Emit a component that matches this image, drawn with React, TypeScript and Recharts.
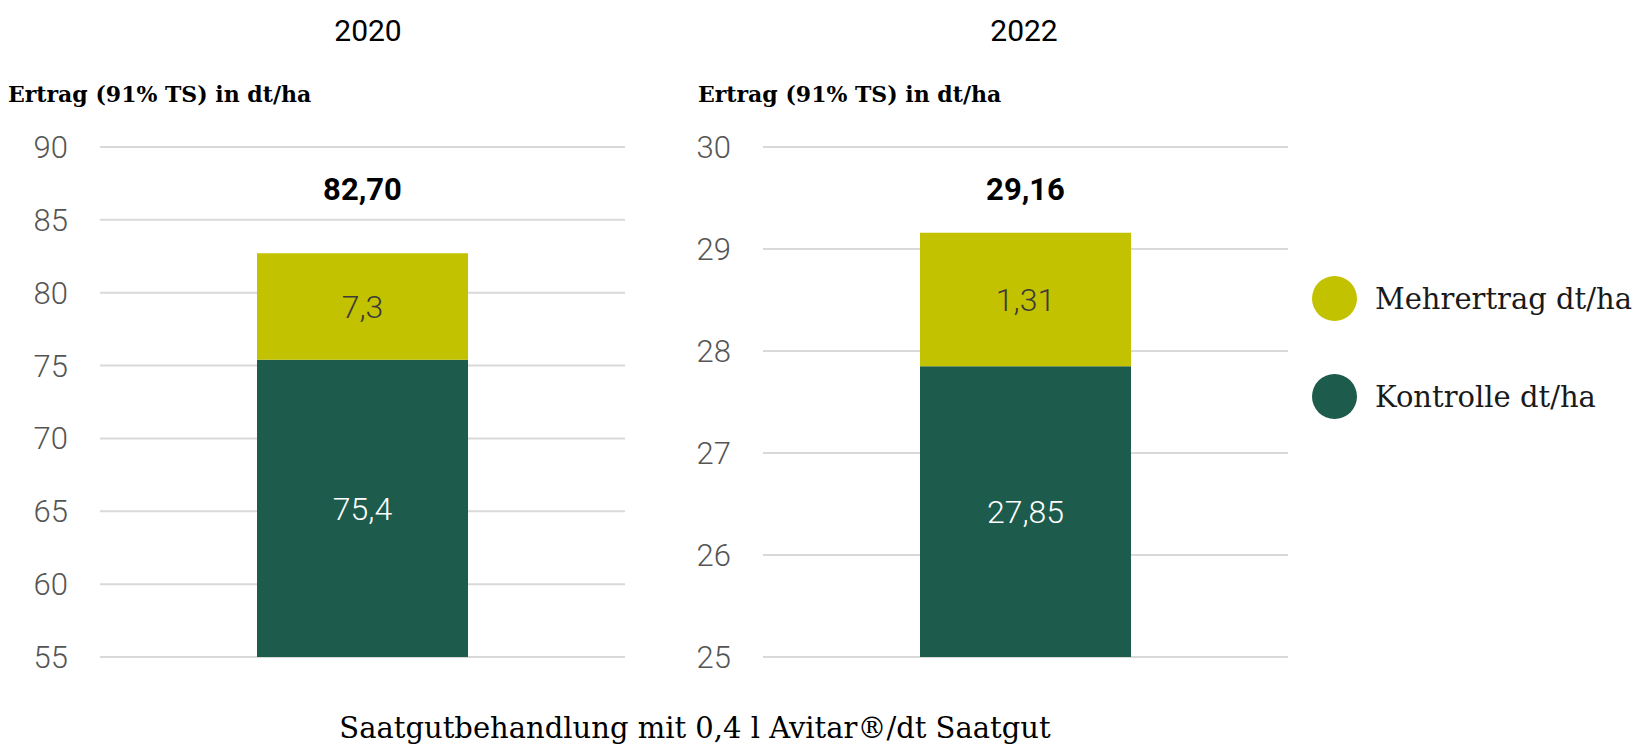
import { BarChart, Bar, XAxis, YAxis, CartesianGrid, LabelList } from "recharts"

const YEARS = ["2020", "2022"]
const KONTROLLE = [75.4, 27.85]
const MEHRERTRAG = [7.3, 1.31]
const TOTALS = [82.7, 29.16]
const Y_DOMAINS: [number, number][] = [[55, 90], [25, 30]]
const Y_TICKS = [
  [55, 60, 65, 70, 75, 80, 85, 90],
  [25, 26, 27, 28, 29, 30],
]

const SERIES = [
  { key: "mehr", name: "Mehrertrag dt/ha", color: "#c3c200" },
  { key: "kontrolle", name: "Kontrolle dt/ha", color: "#1d5b4c" },
]

const AXIS_TITLE = "Ertrag (91% TS) in dt/ha"
const CAPTION = "Saatgutbehandlung mit 0,4 l Avitar®/dt Saatgut"

const SLAB = "'DejaVu Serif', serif"
const SANS = "Roboto, sans-serif"

const PLOT_TOP = 147
const PANEL_LEFT = [0, 663]
const TITLE_X = [368, 1024]
const AXIS_TITLE_X = [8, 698]

const comma = (v: number) => String(v).replace(".", ",")

function Panel({ i }: { i: number }) {
  const data = [
    { year: YEARS[i], kontrolle: KONTROLLE[i], mehr: MEHRERTRAG[i], total: TOTALS[i] },
  ]
  const renderTotal = (props: any) => {
    const { x, width, index } = props
    return (
      <text
        x={Number(x) + Number(width) / 2}
        y={PLOT_TOP + 42}
        textAnchor="middle"
        dominantBaseline="central"
        fontFamily={SANS}
        fontWeight={700}
        fontSize={31}
        fill="#000"
      >
        {data[index].total.toFixed(2).replace(".", ",")}
      </text>
    )
  }
  return (
    <div style={{ position: "absolute", left: PANEL_LEFT[i], top: 0 }}>
      <BarChart
        width={640}
        height={700}
        data={data}
        margin={{ top: PLOT_TOP, right: 15, bottom: 43, left: 0 }}
      >
        <CartesianGrid vertical={false} stroke="#d9d9d9" strokeWidth={2} />
        <XAxis dataKey="year" hide />
        <YAxis
          width={100}
          domain={Y_DOMAINS[i]}
          ticks={Y_TICKS[i]}
          allowDataOverflow
          axisLine={false}
          tickLine={false}
          tickSize={0}
          tickMargin={32}
          tick={{ fill: "#555555", fontSize: 31, fontFamily: SANS, fontWeight: 300 }}
        />
        <Bar dataKey="kontrolle" stackId="a" fill={SERIES[1].color} barSize={211} isAnimationActive={false}>
          <LabelList
            dataKey="kontrolle"
            position="center"
            formatter={(v: any) => comma(v)}
            fill="#ffffff"
            fontSize={32}
            fontFamily={SANS}
            fontWeight={300}
          />
        </Bar>
        <Bar dataKey="mehr" stackId="a" fill={SERIES[0].color} barSize={211} isAnimationActive={false}>
          <LabelList
            dataKey="mehr"
            position="center"
            formatter={(v: any) => comma(v)}
            fill="#3a3a3a"
            fontSize={32}
            fontFamily={SANS}
            fontWeight={300}
          />
          <LabelList dataKey="total" content={renderTotal} />
        </Bar>
      </BarChart>
    </div>
  )
}

export default function App() {
  return (
    <div
      style={{
        position: "absolute",
        left: 0,
        top: 0,
        width: 1633,
        height: 744,
        overflow: "hidden",
        background: "#fff",
        color: "#000",
      }}
    >
      {YEARS.map((y, i) => (
        <div
          key={y}
          style={{
            position: "absolute",
            left: TITLE_X[i] - 100,
            width: 200,
            top: 13,
            textAlign: "center",
            fontFamily: SANS,
            fontSize: 30,
            lineHeight: "36px",
          }}
        >
          {y}
        </div>
      ))}
      {YEARS.map((y, i) => (
        <div
          key={"t" + y}
          style={{
            position: "absolute",
            left: AXIS_TITLE_X[i],
            top: 78,
            fontFamily: SLAB,
            fontWeight: 700,
            fontSize: 22,
            lineHeight: "32px",
            whiteSpace: "nowrap",
          }}
        >
          {AXIS_TITLE}
        </div>
      ))}
      {YEARS.map((_, i) => (
        <Panel key={i} i={i} />
      ))}
      {SERIES.map((s, k) => (
        <div
          key={s.key}
          style={{
            position: "absolute",
            left: 1312,
            top: 276 + k * 98,
            display: "flex",
            alignItems: "center",
            whiteSpace: "nowrap",
          }}
        >
          <div
            style={{
              width: 45,
              height: 45,
              borderRadius: "50%",
              background: s.color,
              marginRight: 18,
            }}
          />
          <span style={{ fontFamily: SLAB, fontSize: 29, color: "#1a1a1a" }}>{s.name}</span>
        </div>
      ))}
      <div
        style={{
          position: "absolute",
          left: 0,
          width: 1390,
          top: 708,
          textAlign: "center",
          fontFamily: SLAB,
          fontSize: 29,
          lineHeight: "40px",
          whiteSpace: "nowrap",
        }}
      >
        {CAPTION}
      </div>
    </div>
  )
}
